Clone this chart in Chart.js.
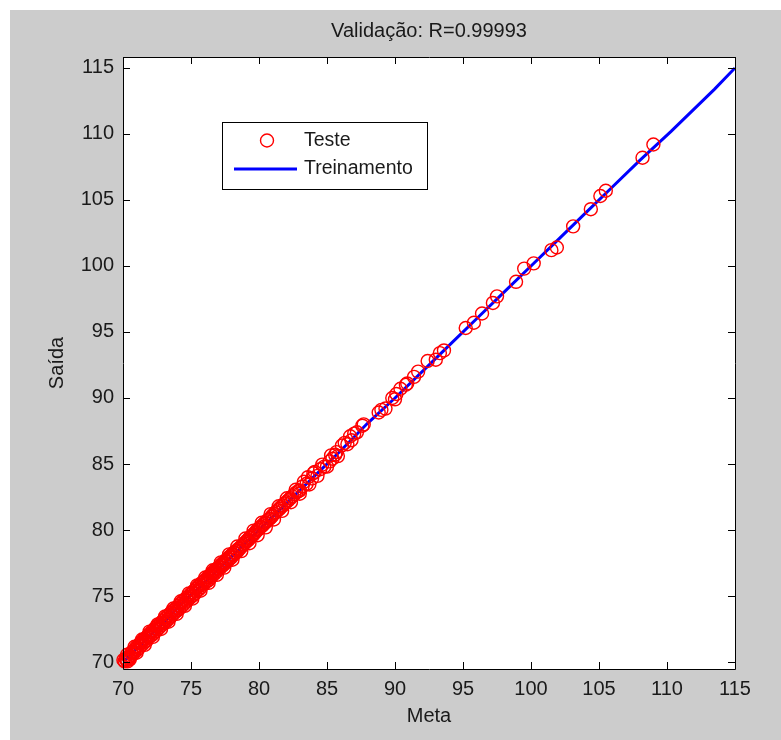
<!DOCTYPE html>
<html>
<head>
<meta charset="utf-8">
<title>Validação</title>
<script src="https://cdn.jsdelivr.net/npm/chart.js@4.4.1/dist/chart.umd.min.js"></script>
<style>
  html, body { margin: 0; padding: 0; background: #ffffff; }
  canvas { display: block; }
</style>
</head>
<body>
<canvas id="grafico" width="781" height="740"></canvas>
<script>
// Tick labels of both axes
const ticksX = [70, 75, 80, 85, 90, 95, 100, 105, 110, 115];
const ticksY = [70, 75, 80, 85, 90, 95, 100, 105, 110, 115];

// Test set: target (Meta) and network output (Saída)
const metaTeste = [
  70.03, 70.12, 70.20, 70.28, 70.33, 70.41, 70.47, 70.55, 70.60, 70.68,
  70.74, 70.82, 70.90, 70.95, 71.03, 71.10, 71.16, 71.24, 71.30, 71.37,
  71.45, 71.52, 71.58, 71.66, 71.72, 71.80, 71.86, 71.93, 72.00, 72.08,
  72.14, 72.22, 72.28, 72.35, 72.43, 72.50, 72.57, 72.63, 72.70, 72.78,
  72.85, 72.92, 73.00, 73.06, 73.14, 73.20, 73.28, 73.35, 73.42, 73.50,
  73.56, 73.63, 73.70, 73.78, 73.85, 73.92, 74.00, 74.07, 74.14, 74.22,
  74.30, 74.36, 74.44, 74.50, 74.58, 74.65, 74.72, 74.80, 74.86, 74.94,
  75.00, 75.08, 75.15, 75.22, 75.30, 75.36, 75.44, 75.50, 75.58, 75.65,
  75.72, 75.80, 75.86, 75.94, 76.00, 76.08, 76.15, 76.22, 76.30, 76.37,
  76.44, 76.52, 76.58, 76.66, 76.73, 76.80, 76.88, 76.95, 77.02, 77.10,
  77.17, 77.24, 77.32, 77.40, 77.47, 77.55, 77.62, 77.70, 77.78, 77.86,
  77.94, 78.02, 78.10, 78.18, 78.26, 78.35, 78.43, 78.52, 78.60, 78.68,
  78.77, 78.86, 78.95, 79.04, 79.12, 79.22, 79.30, 79.40, 79.48, 79.58,
  79.66, 79.76, 79.85, 79.95, 80.05, 80.15, 80.25, 80.35, 80.45, 80.55,
  80.65, 80.78, 80.90, 81.00, 81.12, 81.25, 81.38, 81.50, 81.62, 81.75,
  81.88, 82.00, 82.15, 82.30, 82.45, 82.60, 82.75, 82.90, 83.00, 83.20,
  83.50, 83.60, 83.90, 84.10, 84.50, 84.80, 85.20, 85.40, 85.60, 85.70,
  86.30, 86.50, 86.70, 86.80, 87.00, 87.20, 87.60, 87.70, 88.80, 89.00,
  89.30, 89.80, 90.00, 90.10, 90.40, 90.80, 90.90, 91.40, 91.70, 92.40,
  93.00, 93.30, 93.60, 95.20, 95.80, 96.40, 97.20, 97.50, 98.90, 99.50,
  100.20, 101.50, 101.90, 103.10, 104.40, 105.10, 105.50, 108.20, 109.00,
  70.30, 70.50, 70.85, 71.00, 71.40, 71.60, 71.95, 72.20, 72.55, 72.80,
  73.10, 73.35, 73.70, 73.95, 74.25, 74.55, 74.85, 75.10, 75.45, 75.70,
  76.05, 76.30, 76.60, 76.90, 77.20, 77.45, 77.80, 78.05, 78.40, 78.70,
  79.00, 79.30, 79.60, 79.90, 80.20, 80.50, 80.85, 81.10, 81.45, 81.70,
  82.05, 82.35, 82.70, 83.00, 83.30, 83.70, 84.00, 84.30, 84.65, 85.00,
  85.30, 85.80, 86.10
];
const saidaTeste = [
  70.15, 70.05, 70.25, 70.15, 70.05, 70.38, 70.30, 70.45, 70.70, 70.55,
  70.80, 70.70, 70.95, 71.10, 70.90, 71.20, 71.05, 71.40, 71.25, 71.50,
  71.35, 71.70, 71.55, 71.80, 71.60, 71.95, 71.85, 72.10, 71.95, 72.25,
  72.05, 72.40, 72.20, 72.55, 72.35, 72.70, 72.50, 72.80, 72.65, 72.95,
  72.80, 73.10, 72.95, 73.25, 73.05, 73.40, 73.20, 73.55, 73.35, 73.70,
  73.50, 73.85, 73.65, 73.95, 73.80, 74.10, 73.90, 74.25, 74.05, 74.40,
  74.20, 74.55, 74.35, 74.70, 74.50, 74.85, 74.65, 74.95, 74.80, 75.10,
  74.95, 75.25, 75.05, 75.40, 75.20, 75.55, 75.40, 75.70, 75.50, 75.85,
  75.65, 76.00, 75.85, 76.10, 75.95, 76.25, 76.10, 76.40, 76.20, 76.55,
  76.40, 76.70, 76.55, 76.85, 76.70, 77.00, 76.85, 77.10, 77.00, 77.25,
  77.15, 77.40, 77.30, 77.55, 77.45, 77.70, 77.60, 77.85, 77.75, 78.00,
  77.90, 78.15, 78.10, 78.30, 78.25, 78.45, 78.40, 78.60, 78.60, 78.75,
  78.80, 78.90, 79.00, 79.10, 79.20, 79.25, 79.40, 79.45, 79.55, 79.65,
  79.75, 79.85, 80.00, 80.05, 80.15, 80.25, 80.35, 80.45, 80.55, 80.65,
  80.75, 80.85, 81.00, 81.10, 81.25, 81.35, 81.50, 81.60, 81.75, 81.85,
  82.00, 82.10, 82.25, 82.40, 82.55, 82.70, 82.85, 82.95, 83.00, 83.30,
  83.50, 84.00, 83.90, 84.40, 84.60, 84.80, 85.20, 85.40, 85.70, 85.90,
  86.60, 86.50, 87.10, 86.80, 87.30, 87.40, 87.90, 88.00, 88.90, 89.10,
  89.20, 90.00, 89.90, 90.30, 90.70, 91.00, 91.10, 91.60, 92.00, 92.80,
  92.90, 93.40, 93.60, 95.30, 95.70, 96.40, 97.20, 97.70, 98.80, 99.80,
  100.20, 101.20, 101.40, 103.00, 104.30, 105.30, 105.70, 108.20, 109.20,
  70.55, 70.20, 71.15, 70.70, 71.70, 71.30, 72.30, 71.90, 72.85, 72.50,
  73.45, 73.05, 74.05, 73.65, 74.60, 74.25, 75.20, 74.80, 75.80, 75.40,
  76.40, 76.00, 76.95, 76.60, 77.55, 77.15, 78.15, 77.75, 78.75, 78.40,
  79.35, 79.00, 79.95, 79.60, 80.55, 80.20, 81.20, 80.80, 81.80, 81.45,
  82.40, 82.10, 83.05, 82.75, 83.65, 83.45, 84.30, 84.10, 84.95, 84.80,
  85.65, 85.60, 86.40
];

// Training set, drawn as a connected line
const metaTreino = [70.0, 71.5, 73.0, 74.5, 76.0, 78.0, 80.0, 82.0, 84.0, 86.0, 88.0, 90.0,
  92.0, 94.0, 96.0, 98.0, 100.0, 102.0, 104.0, 106.0, 108.0, 110.3, 113.5, 115.0];
const saidaTreino = [70.0, 71.5, 73.0, 74.6, 76.0, 78.0, 80.0, 82.0, 84.0, 86.0, 88.1, 90.0,
  92.0, 94.0, 96.0, 98.0, 100.0, 102.0, 104.0, 106.0, 108.0, 110.2, 113.4, 115.0];

const pontosTeste = metaTeste.map((m, i) => ({ x: m, y: saidaTeste[i] }));
const pontosTreino = metaTreino.map((m, i) => ({ x: m, y: saidaTreino[i] }));

const FONTE = "'Liberation Sans', Arial, Helvetica, sans-serif";
const COR_TEXTO = '#1a1a1a';
const VERMELHO = '#ff0000';
const AZUL = '#0000ff';

Chart.defaults.font.family = FONTE;
Chart.defaults.font.size = 20;
Chart.defaults.color = COR_TEXTO;

// Gray figure background with a white plotting box
const fundo = {
  id: 'fundo',
  beforeDraw(chart) {
    const { ctx, chartArea: a } = chart;
    ctx.save();
    ctx.fillStyle = '#ffffff';
    ctx.fillRect(0, 0, chart.width, chart.height);
    ctx.fillStyle = '#cccccc';
    ctx.fillRect(10, 10, chart.width - 10, chart.height - 10);
    ctx.fillStyle = '#ffffff';
    ctx.fillRect(a.left, a.top, a.right - a.left, a.bottom - a.top);
    ctx.restore();
  }
};

// Closed axes box with inward ticks on all four sides
const caixa = {
  id: 'caixa',
  afterDraw(chart) {
    const { ctx, chartArea: a } = chart;
    const sx = chart.scales.x, sy = chart.scales.y;
    const L = 7;
    ctx.save();
    ctx.strokeStyle = '#000000';
    ctx.lineWidth = 1;
    ctx.beginPath();
    ctx.rect(Math.round(a.left) + 0.5, Math.round(a.top) + 0.5,
             Math.round(a.right - a.left), Math.round(a.bottom - a.top));
    sx.ticks.forEach(t => {
      const px = Math.round(sx.getPixelForValue(t.value)) + 0.5;
      ctx.moveTo(px, a.bottom); ctx.lineTo(px, a.bottom - L);
      ctx.moveTo(px, a.top); ctx.lineTo(px, a.top + L);
    });
    sy.ticks.forEach(t => {
      const py = Math.round(sy.getPixelForValue(t.value)) + 0.5;
      ctx.moveTo(a.left, py); ctx.lineTo(a.left + L, py);
      ctx.moveTo(a.right, py); ctx.lineTo(a.right - L, py);
    });
    ctx.stroke();
    ctx.restore();
  }
};

// Boxed legend inside the upper-left part of the axes
const legenda = {
  id: 'legenda',
  afterDraw(chart) {
    const { ctx, chartArea: a } = chart;
    const x0 = a.left + 99, y0 = a.top + 65, w = 205, h = 67;
    ctx.save();
    ctx.fillStyle = '#ffffff';
    ctx.fillRect(x0, y0, w, h);
    ctx.strokeStyle = '#000000';
    ctx.lineWidth = 1;
    ctx.strokeRect(Math.round(x0) + 0.5, Math.round(y0) + 0.5, w, h);
    const itens = chart.data.datasets;
    // first row: test markers
    ctx.strokeStyle = VERMELHO;
    ctx.lineWidth = 1.4;
    ctx.beginPath();
    ctx.arc(x0 + 45, y0 + 18.5, 6.5, 0, Math.PI * 2);
    ctx.stroke();
    // second row: training line
    ctx.strokeStyle = AZUL;
    ctx.lineWidth = 3;
    ctx.beginPath();
    ctx.moveTo(x0 + 12, y0 + 47);
    ctx.lineTo(x0 + 75, y0 + 47);
    ctx.stroke();
    ctx.fillStyle = COR_TEXTO;
    ctx.font = '19.5px ' + FONTE;
    ctx.textBaseline = 'middle';
    ctx.textAlign = 'left';
    ctx.fillText(itens[0].label, x0 + 82, y0 + 19);
    ctx.fillText(itens[1].label, x0 + 82, y0 + 47);
    ctx.restore();
  }
};

new Chart(document.getElementById('grafico'), {
  type: 'scatter',
  data: {
    datasets: [
      {
        label: 'Teste',
        data: pontosTeste,
        order: 0,
        showLine: false,
        pointStyle: 'circle',
        pointRadius: 6.5,
        pointHoverRadius: 6.5,
        pointBorderWidth: 1.4,
        pointBorderColor: VERMELHO,
        pointBackgroundColor: 'rgba(0,0,0,0)',
        clip: false
      },
      {
        label: 'Treinamento',
        data: pontosTreino,
        order: 1,
        showLine: true,
        borderColor: AZUL,
        borderWidth: 3,
        pointRadius: 0,
        pointHoverRadius: 0,
        tension: 0
      }
    ]
  },
  options: {
    responsive: false,
    animation: false,
    devicePixelRatio: 1,
    layout: { padding: { left: 0, right: 46, top: 0, bottom: 0 } },
    plugins: {
      legend: { display: false },
      tooltip: { enabled: false },
      title: {
        display: true,
        text: 'Validação: R=0.99993',
        fullSize: false,
        color: COR_TEXTO,
        font: { size: 20, weight: 'normal' },
        padding: { top: 19, bottom: 14 }
      }
    },
    scales: {
      x: {
        type: 'linear',
        min: 70,
        max: 115,
        afterBuildTicks(s) { s.ticks = ticksX.map(v => ({ value: v })); },
        afterFit(s) { s.height = 71; },
        grid: { display: false, drawTicks: false },
        border: { display: false },
        ticks: { padding: 8, color: COR_TEXTO, font: { size: 20 }, maxRotation: 0,
                 callback: v => String(v) },
        title: { display: true, text: 'Meta', color: COR_TEXTO,
                 font: { size: 20 }, padding: { top: 0, bottom: 12 } }
      },
      y: {
        type: 'linear',
        min: 69.47,
        max: 115.83,
        afterBuildTicks(s) { s.ticks = ticksY.map(v => ({ value: v })); },
        afterFit(s) { s.width = 123; },
        grid: { display: false, drawTicks: false },
        border: { display: false },
        ticks: { padding: 9, color: COR_TEXTO, font: { size: 20 },
                 callback: v => String(v) },
        title: { display: true, text: 'Saída', color: COR_TEXTO,
                 font: { size: 20 }, padding: { top: 45, bottom: 0 } }
      }
    }
  },
  plugins: [fundo, caixa, legenda]
});
</script>
</body>
</html>
